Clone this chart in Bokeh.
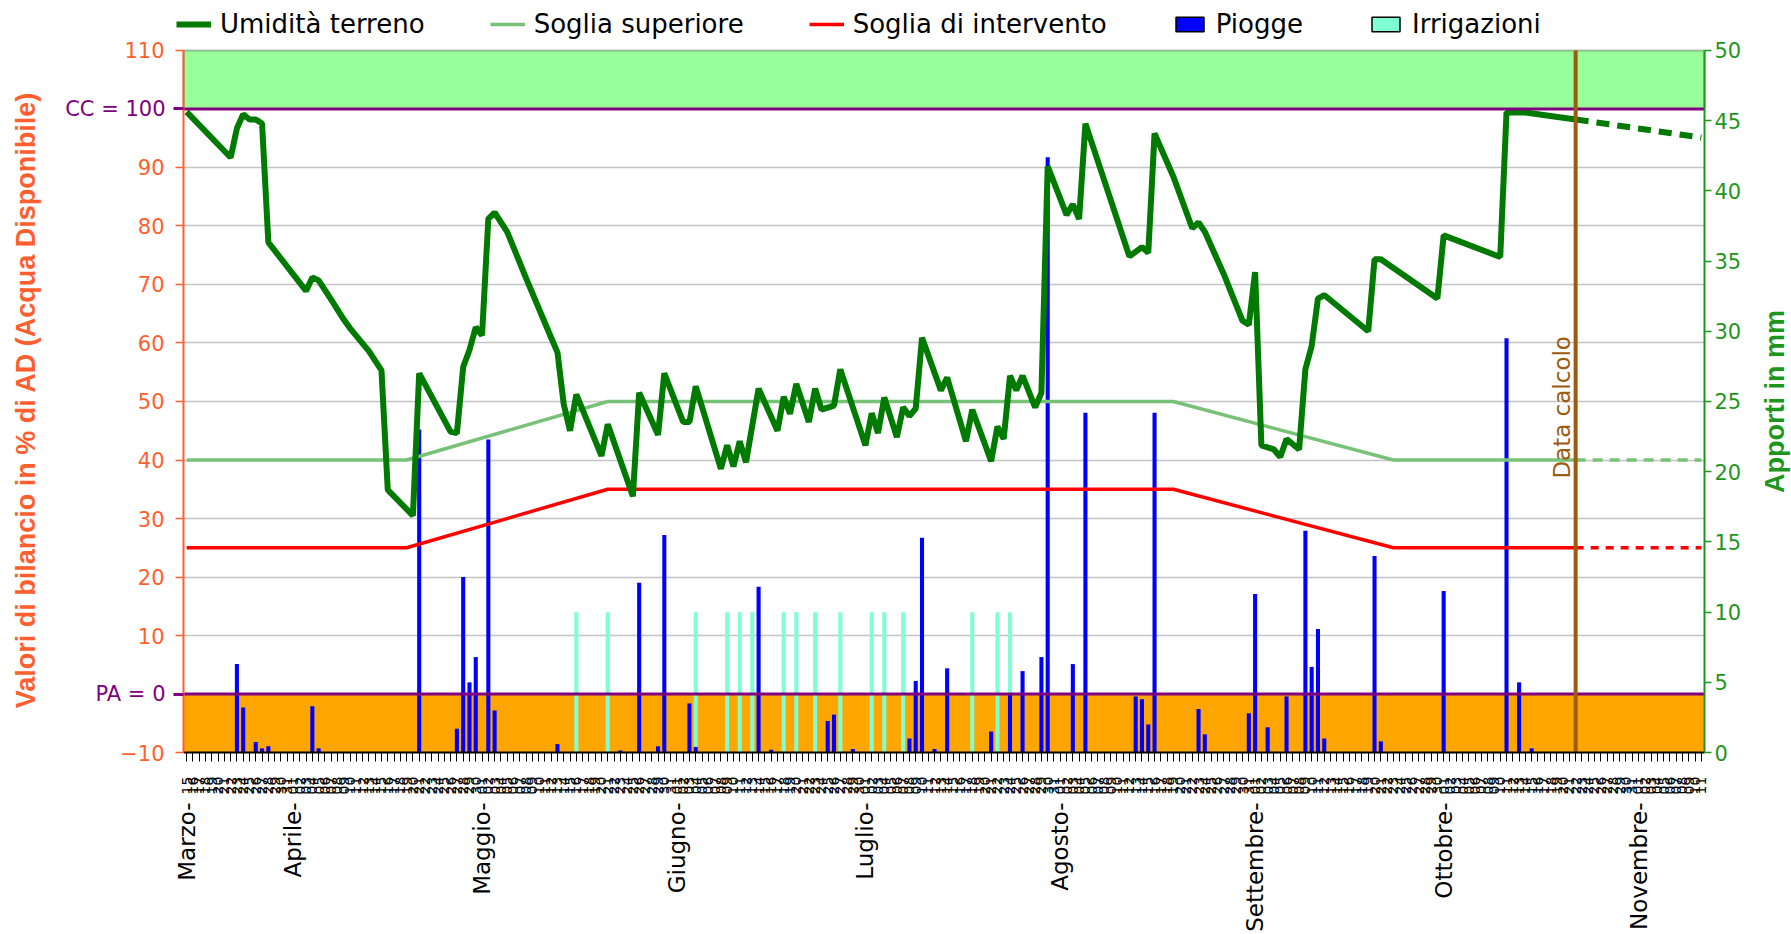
import math
from bokeh.plotting import figure
from bokeh.models import (Range1d, LinearAxis, FixedTicker, BoxAnnotation, Label,
                          Legend, LegendItem)
from bokeh.embed import file_html
from bokeh.resources import INLINE

# ---------------- data ----------------
months = ["Marzo", "Aprile", "Maggio", "Giugno", "Luglio", "Agosto",
          "Settembre", "Ottobre", "Novembre"]
month_len = [31, 30, 31, 30, 31, 31, 30, 31, 30]
first_day = 15          # the axis starts on 15 March
n_days = 242            # 15 March .. 11 November
calc_day = 221          # "Data calcolo" (22 October)

# soil moisture (% of available water), vertices by day index
hum_day = [0, 7, 8, 9, 10, 11, 12, 13, 19, 20, 21, 23, 25, 26, 29, 31, 32, 36, 37, 42,
           43, 44, 45, 46, 47, 48, 49, 51, 54, 58, 59, 60, 61, 62, 66, 67, 71, 72, 75, 76,
           79, 80, 81, 85, 86, 87, 88, 89, 91, 94, 95, 96, 97, 99, 100, 101, 103, 104, 108, 109,
           110, 111, 113, 114, 115, 116, 117, 120, 121, 124, 125, 128, 129, 130, 131, 132, 133, 135, 136, 137,
           140, 141, 142, 143, 150, 152, 153, 154, 157, 160, 161, 162, 165, 168, 169, 170, 171, 173, 174, 175,
           177, 178, 179, 180, 181, 188, 189, 190, 199, 200, 209, 210, 213, 221]
hum_val = [99.5, 91.7, 96.7, 99.1, 98.2, 98.2, 97.5, 77.2, 68.9, 71.2, 70.7, 67.4, 64.0, 62.5, 58.6, 55.3, 34.9, 30.5, 54.8, 44.8,
           44.6, 55.9, 58.8, 62.7, 61.3, 81.2, 82.3, 79.0, 71.1, 60.9, 58.4, 49.5, 45.0, 51.2, 40.7, 46.1, 33.8, 51.5, 44.3, 54.8,
           46.5, 46.5, 52.6, 38.5, 42.5, 38.9, 43.2, 39.6, 52.2, 45.0, 50.8, 47.9, 53.0, 46.5, 52.2, 48.6, 49.3, 55.5, 42.5, 48.0,
           44.6, 50.7, 43.9, 49.0, 47.5, 48.8, 60.9, 51.9, 54.1, 43.2, 48.6, 39.8, 45.7, 43.6, 54.4, 51.9, 54.4, 49.0, 51.5, 90.2,
           81.9, 83.7, 81.2, 97.5, 74.8, 76.4, 75.4, 95.8, 88.4, 79.6, 80.6, 79.0, 71.8, 63.8, 63.1, 72.1, 42.5, 41.8, 40.5, 43.6,
           41.8, 55.5, 59.5, 67.6, 68.2, 62.0, 74.3, 74.3, 67.6, 78.4, 74.7, 99.4, 99.4, 98.2]
# forecast after the calculation date
fc_day = [221, 241]
fc_val = [98.2, 95.1]

# thresholds
thr_day = [0, 35, 67, 157, 192, 221]
sup_val = [40, 40, 50, 50, 40, 40]
int_val = [25, 25, 35, 35, 25, 25]
thr_fc_day = [221, 241]
sup_fc_val = [40, 40]
int_fc_val = [25, 25]

# rain (mm)
rain_day = [8, 9, 11, 12, 13, 20, 21, 37, 43, 44, 45, 46, 48, 49, 59, 69, 72, 75, 76, 80,
            81, 91, 93, 102, 103, 106, 115, 116, 117, 119, 121, 128, 131, 133, 136, 137, 141, 143, 151, 152,
            153, 154, 161, 162, 169, 170, 172, 175, 178, 179, 180, 181, 189, 190, 200, 210, 212, 214]
rain_mm = [6.3, 3.2, 0.75, 0.3, 0.45, 3.3, 0.3, 23.0, 1.7, 12.5, 5.0, 6.8, 22.3, 3.0, 0.6, 0.15, 12.1, 0.45, 15.5, 3.5,
           0.4, 11.8, 0.2, 2.25, 2.7, 0.25, 1.0, 5.1, 15.3, 0.25, 6.0, 1.5, 4.2, 5.8, 6.8, 42.4, 6.3, 24.2, 4.0, 3.8,
           2.0, 24.2, 3.1, 1.3, 2.8, 11.3, 1.8, 4.0, 15.8, 6.1, 8.8, 1.0, 14.0, 0.8, 11.5, 29.5, 5.0, 0.3]

# irrigations (mm)
irr_day = [62, 67, 81, 86, 88, 90, 95, 97, 100, 104, 109, 111, 114, 125, 129, 131]
irr_mm = [10, 10, 10, 10, 10, 10, 10, 10, 10, 10, 10, 10, 10, 10, 10, 10]

# axes
y_min, y_max = -10, 110          # left axis (% AD)
mm_min, mm_max = 0, 50           # right axis (mm), same extent as the left one
cc_level, pa_level = 100, 0      # field capacity / wilting point
left_ticks = list(range(-10, 111, 10))
right_ticks = list(range(0, 51, 5))
limit_labels = {100: "CC = 100", 0: "PA = 0"}

# tick labels (day numbers, month names at month starts)
day_labels = {}
month_labels = {}
m, d = 0, first_day
for i in range(n_days):
    day_labels[i] = f"{d:02d}"
    if i == 0 or d == 1:
        month_labels[i] = months[m] + "-"
    d += 1
    if d > month_len[m]:
        d, m = 1, m + 1

# ---------------- layout (pixels) ----------------
W, H = 1791, 934
FL, FR, FT, FB = 183, 1704, 50, 753      # data area in canvas pixels
EXT_L, EXT_T, EXT_B = 40, 0, 800         # full frame (room for labels and legend)
px_x = (FR - FL) / n_days
px_y = (FB - FT) / (y_max - y_min)
x_first = -0.5
x_last = n_days - 0.5
x_lo = x_first - (FL - EXT_L) / px_x
x_hi = x_last + (W - FR) / px_x
y_lo = y_min - (EXT_B - FB) / px_y
y_hi = y_max + (FT - EXT_T) / px_y
to_mm = lambda v: mm_min + (v - y_min) * (mm_max - mm_min) / (y_max - y_min)

# ---------------- style ----------------
FONT = "DejaVu Sans"
LEFT_C = "#FF5F2E"
RIGHT_C = "#1E961E"
PURPLE = "#800080"
BROWN = "#9C5B0F"
HUM_C = "#007A00"
SUP_C = "#77C277"
INT_C = "#FF0000"
RAIN_C = "#0000FF"
IRR_C = "#7FFFD4"
UP = math.pi / 2        # text reading bottom-to-top

p = figure(width=W, height=H, title=None,
           x_range=Range1d(x_lo, x_hi), y_range=Range1d(y_lo, y_hi),
           output_backend="svg", toolbar_location=None, min_border=0,
           min_border_left=EXT_L, min_border_right=0, min_border_top=EXT_T,
           min_border_bottom=H - EXT_B)
p.extra_y_ranges = {"mm": Range1d(to_mm(y_lo), to_mm(y_hi))}
p.background_fill_color = "white"
p.border_fill_color = "white"
p.outline_line_color = None

p.xgrid.visible = False
p.ygrid.ticker = FixedTicker(ticks=[10, 20, 30, 40, 50, 60, 70, 80, 90])
p.ygrid.grid_line_color = "#C4C4C4"
p.ygrid.grid_line_width = 1.5

# blank the label areas beside the data area, then the bands
p.add_layout(BoxAnnotation(right=x_first, fill_color="white", fill_alpha=1,
                           line_color=None, level="underlay"))
p.add_layout(BoxAnnotation(left=x_last, fill_color="white", fill_alpha=1,
                           line_color=None, level="underlay"))
p.add_layout(BoxAnnotation(left=x_first, right=x_last, bottom=cc_level, top=y_max,
                           fill_color="#99FF99", fill_alpha=1, line_color="#222222",
                           line_width=2, level="underlay"))
p.add_layout(BoxAnnotation(left=x_first, right=x_last, bottom=y_min, top=pa_level,
                           fill_color="#FFA500", fill_alpha=1, line_color=None, level="underlay"))

# bars
p.vbar(x=irr_day, top=irr_mm, bottom=0, width=0.65, y_range_name="mm",
       fill_color=IRR_C, line_color=None)
p.vbar(x=rain_day, top=rain_mm, bottom=0, width=0.65, y_range_name="mm",
       fill_color=RAIN_C, line_color=None)

# threshold lines
sup_r = p.line(thr_day, sup_val, line_color=SUP_C, line_width=3.5)
p.line(thr_fc_day, sup_fc_val, line_color=SUP_C, line_width=3.5, line_dash="10 7")
int_r = p.line(thr_day, int_val, line_color=INT_C, line_width=3.5)
p.line(thr_fc_day, int_fc_val, line_color=INT_C, line_width=3.5, line_dash="8 7")

# soil moisture
hum_r = p.line(hum_day, hum_val, line_color=HUM_C, line_width=6)
p.line(fc_day, fc_val, line_color=HUM_C, line_width=6, line_dash="13 8")

# CC / PA lines
p.segment(x0=[x_first, x_first], x1=[x_last, x_last], y0=[cc_level, pa_level],
          y1=[cc_level, pa_level], line_color=PURPLE, line_width=3)

# calculation date
p.segment(x0=[calc_day], x1=[calc_day], y0=[y_min], y1=[y_max], line_color=BROWN, line_width=4)
p.add_layout(Label(x=calc_day, y=49, text="Data calcolo", angle=UP,
                   text_align="center", text_baseline="middle", x_offset=-14,
                   text_color=BROWN, text_font=FONT, text_font_size="23px"))

# left panel axis: only the title
ya = p.yaxis[0]
ya.ticker = FixedTicker(ticks=[])
ya.axis_line_color = None
ya.major_tick_out = 0
ya.major_tick_in = 0
ya.minor_tick_line_color = None
ya.major_label_standoff = 0
ya.axis_label = "Valori di bilancio in % di AD (Acqua Disponibile)"
ya.axis_label_text_font = "Liberation Sans"
ya.axis_label_text_font_style = "bold"
ya.axis_label_text_font_size = "27px"
ya.axis_label_text_color = LEFT_C
ya.axis_label_standoff = 0

# left value axis pinned at the data edge
la = LinearAxis(fixed_location=x_first, ticker=FixedTicker(ticks=left_ticks),
                bounds=(y_min, y_max), major_label_overrides={k: "" for k in limit_labels})
la.axis_line_color = LEFT_C
la.axis_line_width = 2
la.major_tick_line_color = LEFT_C
la.major_tick_line_width = 1.5
la.major_tick_out = 8
la.major_tick_in = 0
la.minor_tick_line_color = None
la.major_label_text_color = LEFT_C
la.major_label_text_font = FONT
la.major_label_text_font_size = "21px"
la.major_label_standoff = 11
p.add_layout(la, "left")

# purple CC / PA labels
pa = LinearAxis(fixed_location=x_first, ticker=FixedTicker(ticks=list(limit_labels.keys())),
                major_label_overrides=limit_labels)
pa.axis_line_color = None
pa.major_tick_line_color = PURPLE
pa.major_tick_line_width = 3
pa.major_tick_out = 10
pa.major_tick_in = 0
pa.minor_tick_line_color = None
pa.major_label_text_color = PURPLE
pa.major_label_text_font = FONT
pa.major_label_text_font_size = "21px"
pa.major_label_standoff = 8
p.add_layout(pa, "left")

# right axis pinned at the data edge, with its title
ra = LinearAxis(y_range_name="mm", fixed_location=x_last, ticker=FixedTicker(ticks=right_ticks),
                bounds=(mm_min, mm_max))
ra.axis_line_color = RIGHT_C
ra.axis_line_width = 2
ra.major_tick_line_color = RIGHT_C
ra.major_tick_line_width = 1.5
ra.major_tick_out = 7
ra.major_tick_in = 0
ra.minor_tick_line_color = None
ra.major_label_text_color = RIGHT_C
ra.major_label_text_font = FONT
ra.major_label_text_font_size = "21px"
ra.major_label_standoff = 3
p.add_layout(ra, "right")
p.add_layout(Label(x=x_last, y=(y_min + y_max) / 2, x_offset=70, text="Apporti in mm",
                   angle=UP, text_align="center", text_baseline="middle",
                   text_color=RIGHT_C, text_font="Liberation Sans", text_font_style="bold",
                   text_font_size="27px"))

# day axis pinned at the bottom of the data area
xa = LinearAxis(fixed_location=y_min, ticker=FixedTicker(ticks=list(range(n_days))),
                bounds=(x_first, x_last), major_label_overrides=day_labels)
xa.major_label_orientation = UP
xa.major_label_text_font = FONT
xa.major_label_text_font_size = "14px"
xa.major_label_text_color = "black"
xa.major_label_standoff = 15
xa.major_tick_out = 9
xa.major_tick_in = 0
xa.major_tick_line_color = "black"
xa.minor_tick_line_color = None
xa.axis_line_color = "black"
xa.axis_line_width = 2
p.add_layout(xa, "below")

# month axis (panel below)
ma = p.xaxis[0]
ma.ticker = FixedTicker(ticks=list(month_labels.keys()))
ma.major_label_overrides = month_labels
ma.major_label_orientation = UP
ma.major_label_text_font = FONT
ma.major_label_text_font_size = "23px"
ma.major_label_text_color = "black"
ma.major_label_standoff = 3
ma.major_tick_out = 0
ma.major_tick_in = 0
ma.major_tick_line_color = None
ma.minor_tick_line_color = None
ma.axis_line_color = None

# legend (bar entries use hidden proxies with a black outline)
d_rain = p.vbar(x=rain_day[:1], top=rain_mm[:1], width=0.6, y_range_name="mm",
                fill_color=RAIN_C, line_color="black", line_width=1.5, visible=False)
d_irr = p.vbar(x=irr_day[:1], top=irr_mm[:1], width=0.6, y_range_name="mm",
               fill_color=IRR_C, line_color="black", line_width=1.5, visible=False)
legend = Legend(items=[
    LegendItem(label="Umidità terreno", renderers=[hum_r]),
    LegendItem(label="Soglia superiore", renderers=[sup_r]),
    LegendItem(label="Soglia di intervento", renderers=[int_r]),
    LegendItem(label="Piogge", renderers=[d_rain]),
    LegendItem(label="Irrigazioni", renderers=[d_irr]),
], orientation="horizontal", location=(176 - EXT_L, EXT_B - 40), nrows=1)
legend.label_text_font = FONT
legend.label_text_font_size = "26px"
legend.label_text_color = "black"
legend.glyph_width = 35
legend.glyph_height = 18
legend.label_standoff = 9
legend.spacing = 65
legend.padding = 1
legend.margin = 0
legend.border_line_color = None
legend.background_fill_alpha = 0
legend.inactive_fill_alpha = 0
p.add_layout(legend, "center")

open("out.html", "w").write(file_html(p, INLINE))
